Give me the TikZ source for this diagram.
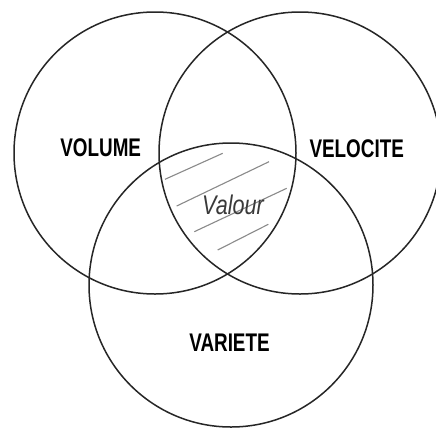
\documentclass[tikz,border=0pt]{standalone}
\usepackage{fontspec}
\setmainfont{Liberation Sans}
\newfontfamily\lblfont[FakeStretch=0.74]{Liberation Sans}
\newfontfamily\valfont[FakeStretch=0.8]{Liberation Sans}
\definecolor{ringcol}{HTML}{262626}
\definecolor{hatchcol}{HTML}{8A8A8A}
\definecolor{valcol}{HTML}{3A3A3A}
\begin{document}
\begin{tikzpicture}[x=1pt,y=-1pt,
  ring/.style={draw=ringcol,line width=1.5pt},
  setlabel/.style={font=\lblfont\bfseries\fontsize{25.5}{30}\selectfont,text=black,inner sep=0pt},
  hatchline/.style={draw=hatchcol,line width=1.1pt},
  vallabel/.style={font=\valfont\itshape\fontsize{27}{30}\selectfont,text=valcol,inner sep=0pt}]
\useasboundingbox (0,0) rectangle (436,429);
\fill[white] (0,0) rectangle (436,429);
% hatching
\coordinate (h1a) at (165,179.3); \coordinate (h1b) at (222.7,153.3);
\coordinate (h2a) at (176.7,206); \coordinate (h2b) at (269,161.7);
\coordinate (h3a) at (194.3,231.7); \coordinate (h3b) at (286.7,188.3);
\coordinate (h4a) at (217.7,250); \coordinate (h4b) at (268.3,224.3);
\draw[hatchline] (h1a) -- (h1b);
\draw[hatchline] (h2a) -- (h2b);
\draw[hatchline] (h3a) -- (h3b);
\draw[hatchline] (h4a) -- (h4b);
% circles
\draw[ring] (155,153) circle[radius=141];
\draw[ring] (300,153) circle[radius=141];
\draw[ring] (231,285) circle[radius=142];
% labels
\node[setlabel] (volume) at (100.7,148) {VOLUME};
\node[setlabel] (velocite) at (356.7,148.5) {VELOCITE};
\node[setlabel] (variete) at (229.5,343) {VARIETE};
\node[vallabel] (valour) at (233,205) {Valour};
\end{tikzpicture}
\end{document}
